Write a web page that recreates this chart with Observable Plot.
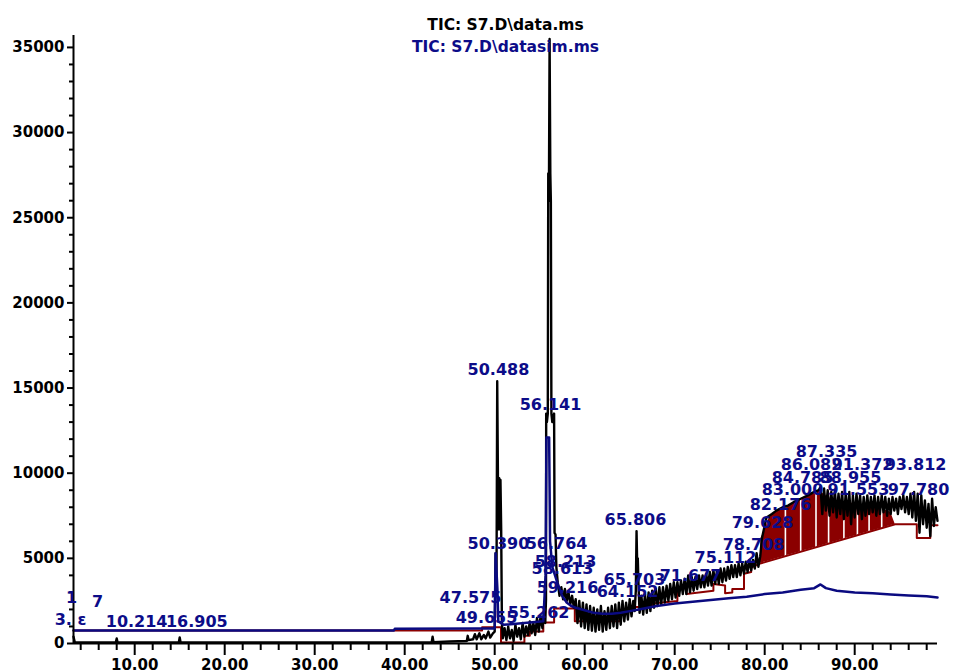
<!DOCTYPE html>
<html>
<head>
<meta charset="utf-8">
<script src="https://cdn.jsdelivr.net/npm/d3@7"></script>
<script src="https://cdn.jsdelivr.net/npm/@observablehq/plot@0.6"></script>
<style>
html, body { margin: 0; padding: 0; background: #fff; overflow: hidden; }
#chart svg { display: block; }
</style>
</head>
<body>
<div id="chart"></div>
<script>
// ---------- text ----------
const titleLines = ["TIC: S7.D\\data.ms", "TIC: S7.D\\datasim.ms"];

// ---------- axes ----------
const xMajorTicks = [10, 20, 30, 40, 50, 60, 70, 80, 90];
const xTickLabels = ["10.00", "20.00", "30.00", "40.00", "50.00", "60.00", "70.00", "80.00", "90.00"];
const xMinorTicks = [4, 6, 8, 12, 14, 16, 18, 22, 24, 26, 28, 32, 34, 36, 38, 42, 44, 46, 48, 52, 54, 56, 58, 62, 64, 66, 68, 72, 74, 76, 78, 82, 84, 86, 88, 92, 94, 96, 98];
const yMajorTicks = [0, 5000, 10000, 15000, 20000, 25000, 30000, 35000];
const yTickLabels = ["0", "5000", "10000", "15000", "20000", "25000", "30000", "35000"];
const yMinorTicks = [1000, 2000, 3000, 4000, 6000, 7000, 8000, 9000, 11000, 12000, 13000, 14000, 16000, 17000, 18000, 19000, 21000, 22000, 23000, 24000, 26000, 27000, 28000, 29000, 31000, 32000, 33000, 34000];
const timeRange = [3.2, 99.2];
const abundanceRange = [0, 35700];

// ---------- TIC data.ms (black) : [retention time, abundance] ----------
const ticPoints = [
  [3.2,400],[3.35,60],[7.9,60],[8.0,300],[8.1,60],[14.9,60],[15.0,350],[15.1,60],[20,60],[30,60],[38,60],
  [43.0,80],[43.1,400],[43.2,80],[45,120],[46.9,150],[47.0,450],[47.1,200],[47.6,250],[47.8,550],[48.0,250],
  [48.3,600],[48.5,250],[48.8,500],[49.0,300],[49.3,700],[49.5,350],[49.8,600],[50.0,700],
  [50.1,5300],[50.2,3500],[50.28,15400],[50.36,9700],[50.44,6700],[50.5,9700],[50.58,6700],[50.64,9600],[50.72,6700],[50.8,1200],[50.9,300],
  [51.1,900],[51.3,200],[51.5,1000],[51.7,300],[51.9,800],[52.1,150],[52.3,1100],[52.5,400],[52.7,900],[52.9,250],
  [53.1,1200],[53.3,400],[53.5,1000],[53.7,500],[53.9,1300],[54.1,600],[54.3,1200],[54.5,500],[54.7,1500],[54.9,700],
  [55.1,1600],[55.3,900],[55.5,1900],[55.62,1200],
  [55.70,2600],[55.72,13500],[55.80,13000],[55.90,13500],[55.95,27600],[56.02,26000],[56.10,35500],[56.18,27600],[56.24,26000],
  [56.30,13500],[56.40,13000],[56.50,13300],[56.60,13500],[56.65,6500],[56.76,6400],[56.85,4500],[57.0,3600],
  [57.2,2800],[57.4,3300],[57.6,2600],[57.8,3200],[58.0,2500],[58.2,3000],[58.4,2300],[58.6,2800],[58.8,2100],[59.0,2600],
  [59.2,1200],[59.4,2500],[59.6,1000],[59.8,2400],[60.0,900],[60.2,2300],[60.4,800],[60.6,2200],[60.8,750],[61.0,2100],
  [61.2,700],[61.4,2000],[61.6,800],[61.8,2200],[62.0,700],[62.2,1900],[62.4,800],[62.6,2100],[62.8,900],[63.0,2200],
  [63.2,1000],[63.4,2300],[63.6,900],[63.8,2400],[64.0,1100],[64.2,2500],[64.4,1300],[64.6,2400],[64.8,1400],[65.0,2600],
  [65.2,1600],[65.4,2500],[65.55,1900],[65.68,3100],[65.76,6600],[65.82,5000],[65.9,5000],[66.0,3100],[66.1,1800],
  [66.3,2800],[66.5,1700],[66.7,2900],[66.9,1800],[67.1,3000],[67.3,1900],[67.5,3100],[67.7,2100],[67.9,3200],[68.1,2200],
  [68.3,3300],[68.5,2300],[68.7,3300],[68.9,2400],[69.1,3400],[69.3,2500],[69.5,3500],[69.7,2600],[69.9,3600],[70.1,2700],
  [70.3,3600],[70.5,2800],[70.7,3700],[70.9,2900],[71.1,3800],[71.3,2900],[71.5,4000],[71.7,3000],[71.9,3900],[72.1,3100],
  [72.3,3900],[72.5,3200],[72.7,4000],[72.9,3300],[73.1,4000],[73.3,3300],[73.5,4100],[73.7,3400],[73.9,4200],[74.1,3400],
  [74.3,4300],[74.5,3500],[74.7,4300],[74.9,3500],[75.1,4400],[75.3,3600],[75.5,4400],[75.7,3700],[75.9,4500],[76.1,3800],
  [76.3,4600],[76.5,3900],[76.7,4600],[76.9,3900],[77.1,4700],[77.3,4000],[77.5,4700],[77.7,4100],[77.9,4800],[78.1,4200],
  [78.3,4900],[78.5,4300],[78.7,4900],[78.9,4400],[79.1,5300],[79.3,4500],[79.5,5100],
  [79.7,6200],[80.2,7400],[80.8,7600],[81.3,7800],[82.0,8000],[82.6,8100],[83.2,8300],[84.0,8500],[84.8,8700],[85.5,8900],[86.0,9000],
  [86.2,9200],[86.4,7600],[86.6,9100],[86.8,7800],[87.0,9000],[87.2,7500],[87.4,8900],[87.6,7700],[87.8,9000],[88.0,7400],
  [88.2,8800],[88.4,7600],[88.6,8900],[88.8,7300],[89.0,8800],[89.2,7500],[89.4,8900],[89.6,7000],[89.8,8700],[90.0,7400],
  [90.2,8800],[90.4,7600],[90.6,8700],[90.8,7300],[91.0,8600],[91.2,7500],[91.4,8700],[91.6,7600],[91.8,8600],[92.0,7700],
  [92.2,8700],[92.4,7500],[92.6,8600],[92.8,7600],[93.0,8700],[93.2,7700],[93.4,8600],[93.6,7500],[93.8,8500],[94.0,7600],
  [94.2,8600],[94.4,7800],[94.6,8500],[94.8,7600],[95.0,8600],[95.2,7900],[95.4,8700],[95.6,7700],[95.8,8600],[96.0,7600],
  [96.2,8800],[96.4,7400],[96.6,8900],[96.8,7200],[97.0,8800],[97.2,6500],[97.4,8700],[97.6,7000],[97.8,8400],[98.0,6800],
  [98.2,8200],[98.4,6300],[98.6,8500],[98.8,6900],[99.0,8000],[99.2,7200]
];

// ---------- TIC datasim.ms (blue) ----------
const simPoints = [
  [3.2,760],[38.8,760],[38.9,870],[48.0,880],[50.0,880],[50.1,5300],[50.3,3200],[50.4,1300],[51.0,1100],[55.4,1300],
  [55.65,4000],[55.75,12100],[56.05,12100],[56.15,6000],[56.4,4500],[57.0,3500],[57.5,2800],[58.0,2400],[58.5,2200],
  [59.0,2100],[60.0,1950],[61.0,1800],[62.0,1750],[63.0,1750],[64.0,1800],[65.0,1900],[66.0,2000],[68.0,2200],[70.0,2350],
  [72.0,2450],[74.0,2550],[76.0,2650],[78.0,2750],[80.0,2900],[82.0,3000],[84.0,3150],[85.5,3250],[86.2,3470],[86.8,3250],
  [88.0,3100],[90.0,3000],[92.0,2950],[94.0,2880],[96.0,2820],[98.0,2780],[99.2,2700]
];

// ---------- integration baseline (dark red) ----------
const baselinePoints = [
  [3.2,760],[48.6,760],[48.6,950],[50.7,950],[50.7,60],[53.3,60],[53.3,450],[53.9,450],[53.9,700],[55.4,700],
  [55.4,1230],[56.6,1230],[56.6,2050],[58.9,2050],[58.9,1300],[63.9,1300],[63.9,1950],[65.2,1950],[65.2,2150],[67.5,2150],
  [67.5,2350],[70.3,2500],[70.3,3300],[71.3,3300],[71.3,2900],[74.3,3100],[74.3,3500],[75.6,3400],[75.6,2950],[76.4,3000],
  [76.4,3200],[77.7,3200],[77.7,4100],[78.5,4200],[78.5,4450],[79.5,4700],[94.5,7000],[96.9,7000],[96.9,6200],[98.4,6200],
  [98.4,6950],[99.2,6950]
];
// integrated peak area (filled dark red)
const areaTime = [79.5, 79.6, 80.0, 80.5, 81.0, 81.5, 82.0, 82.5, 83.0, 83.5, 84.0, 84.5, 85.0, 85.5, 86.0, 86.5, 87.0, 88.0, 89.0, 90.0, 91.0, 92.0, 93.0, 94.0, 94.5];
const areaBase = [4700, 4720, 4780, 4850, 4930, 5010, 5080, 5160, 5240, 5310, 5390, 5470, 5540, 5620, 5700, 5770, 5850, 6000, 6160, 6310, 6470, 6620, 6770, 6930, 7000];
const areaTop  = [4800, 6200, 6600, 7400, 7600, 7800, 7900, 8000, 8200, 8400, 8500, 8600, 8700, 8800, 9000, 8800, 8600, 8400, 8300, 8200, 8100, 8000, 7900, 7700, 7000];
const areaGaps = [82.3, 84.0, 85.7, 87.1, 88.8, 90.3, 91.6, 93.0];

// ---------- peak labels: [x position (min), y position (abundance), text] ----------
const peakLabels = [
  [2.87,1057,"3. \u025B"],[5.87,2114,"7"],[2.98,2350,"1"],[10.214,998,"10.214"],[16.905,998,"16.905"],
  [47.31,2349,"47.575"],[49.09,1233,"49.655"],[50.42,5520,"50.390"],[50.42,15737,"50.488"],[54.87,1468,"55.262"],
  [56.2,13682,"56.141"],[56.87,5520,"56.764"],[57.87,4521,"58.213"],[57.53,4110,"58.613"],[58.09,2936,"59.216"],
  [64.76,2701,"64.152"],[65.64,6929,"65.806"],[65.53,3406,"65.703"],[71.76,3699,"71.677"],[75.64,4698,"75.112"],
  [78.76,5461,"78.708"],[79.76,6753,"79.628"],[81.76,7868,"82.176"],[83.09,8691,"83.000"],[84.2,9395,"84.785"],
  [85.2,10159,"86.082"],[86.87,10922,"87.335"],[89.53,9395,"88.955"],[90.87,10159,"91.372"],[90.42,8691,"91.553"],
  [96.76,10159,"93.812"],[97.09,8691,"97.780"]
];

const navy = "#0c0c88";
const darkRed = "#8b0000";
const font = "DejaVu Sans";

const chart = Plot.plot({
  width: 955,
  height: 680,
  marginLeft: 73,
  marginRight: 18,
  marginTop: 35,
  marginBottom: 37,
  style: {fontFamily: font, fontWeight: "bold", fontSize: "15px", background: "#fff", color: "#000"},
  x: {domain: timeRange, axis: null},
  y: {domain: abundanceRange, axis: null},
  marks: [
    // integration baseline and filled areas
    Plot.areaY(areaTime.map((t, i) => ({t, lo: areaBase[i], hi: areaTop[i]})), {x: "t", y1: "lo", y2: "hi", fill: darkRed, curve: "linear"}),
    Plot.ruleX(areaGaps, {y1: 4300, y2: 9400, stroke: "#fff", strokeWidth: 1.6}),
    Plot.line(baselinePoints, {x: d => d[0], y: d => d[1], stroke: darkRed, strokeWidth: 2}),
    // TIC
    Plot.line(ticPoints, {x: d => d[0], y: d => d[1], stroke: "#000", strokeWidth: 2.4}),
    // simulated TIC
    Plot.line(simPoints, {x: d => d[0], y: d => d[1], stroke: "#0a0a80", strokeWidth: 2.5}),
    // axis lines
    Plot.ruleX([timeRange[0]], {y1: abundanceRange[0], y2: abundanceRange[1], stroke: "#000", strokeWidth: 2}),
    Plot.ruleY([0], {x1: timeRange[0], x2: timeRange[1], stroke: "#000", strokeWidth: 2}),
    // ticks
    Plot.axisY({ticks: yMajorTicks, tickSize: 6, tickPadding: 3, strokeWidth: 2, anchor: "left", label: null,
      tickFormat: d => yTickLabels[yMajorTicks.indexOf(d)], fontSize: 15, fontWeight: "bold"}),
    Plot.axisY({ticks: yMinorTicks, tickSize: 4, strokeWidth: 2, anchor: "left", label: null, tickFormat: () => ""}),
    Plot.axisX({ticks: xMajorTicks, tickSize: 12, tickPadding: 4, strokeWidth: 2, anchor: "bottom", label: null,
      tickFormat: d => xTickLabels[xMajorTicks.indexOf(d)], fontSize: 15, fontWeight: "bold"}),
    Plot.axisX({ticks: xMinorTicks, tickSize: 7, strokeWidth: 2, anchor: "bottom", label: null, tickFormat: () => ""}),
    // peak labels
    Plot.text(peakLabels, {x: d => d[0], y: d => d[1], text: d => d[2], lineAnchor: "bottom", textAnchor: "middle",
      fill: navy, fontSize: 16, fontWeight: "bold"}),
    // titles
    Plot.text([titleLines[0]], {frameAnchor: "top", dy: -6, lineAnchor: "bottom", fill: "#000", fontSize: 15.5, fontWeight: "bold"}),
    Plot.text([titleLines[1]], {frameAnchor: "top", dy: 16, lineAnchor: "bottom", fill: navy, fontSize: 15.5, fontWeight: "bold"})
  ]
});
document.getElementById("chart").appendChild(chart);
</script>
</body>
</html>
